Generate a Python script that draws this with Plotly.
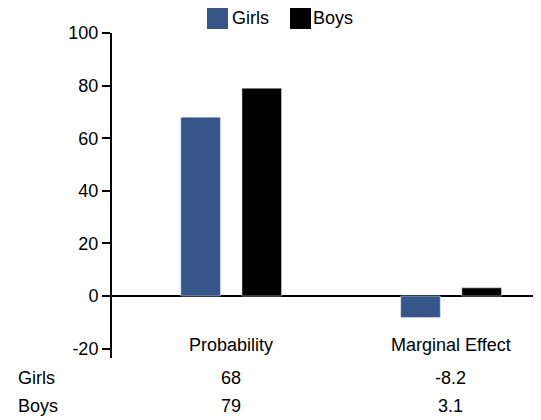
import plotly.graph_objects as go

categories = ["Probability", "Marginal Effect"]
girls = [68, -8.2]
boys = [79, 3.1]
girls_text = ["68", "-8.2"]
boys_text = ["79", "3.1"]
y_ticks = [-20, 0, 20, 40, 60, 80, 100]
y_tick_text = ["-20", "0", "20", "40", "60", "80", "100"]

GIRL_COLOR = "#36568a"
BOY_COLOR = "#000000"
FONT = "Liberation Sans, Arial, sans-serif"
FS = 18

OFF = 8  # page body margin
W, H = 541 - OFF, 420 - OFF
L, T = 112 - OFF, 33 - OFF
R = 0
B = H - (358 - OFF)
pw, ph = W - L - R, H - T - B

def px_x(x):
    return (x - OFF - L) / pw

def px_y(y):
    return 1 - (y - OFF - T) / ph

fig = go.Figure()
fig.add_trace(go.Bar(x=categories, y=girls, name="Girls", marker_color=GIRL_COLOR,
                     width=0.18, offset=-0.228, showlegend=False))
fig.add_trace(go.Bar(x=categories, y=boys, name="Boys", marker_color=BOY_COLOR,
                     width=0.18, offset=0.05, showlegend=False))

fig.update_layout(
    width=W, height=H,
    margin=dict(l=L, r=R, t=T, b=B, pad=0),
    paper_bgcolor="white", plot_bgcolor="white",
    font=dict(family=FONT, size=FS, color="black"),
    barmode="overlay",
    xaxis=dict(type="category", range=[-0.541, 1.41], showticklabels=False,
               showline=False, showgrid=False, zeroline=False, fixedrange=True),
    yaxis=dict(range=[-23.57, 100], tickvals=y_ticks, ticktext=y_tick_text,
               showgrid=False,
               showline=True, linecolor="black", linewidth=2,
               ticks="outside", ticklen=8, tickwidth=2, tickcolor="black",
               zeroline=True, zerolinecolor="black", zerolinewidth=2),
)

# small end tick on zero line
fig.add_shape(type="line", xref="paper", yref="y", x0=px_x(539.5), x1=px_x(539.5), y0=0, y1=-2.6,
              line=dict(color="black", width=1.5))

# legend built from shapes + text
for name, color, x0, tx in [("Girls", GIRL_COLOR, 207, 230), ("Boys", BOY_COLOR, 290, 311)]:
    fig.add_shape(type="rect", xref="paper", yref="paper",
                  x0=px_x(x0), x1=px_x(x0 + 21), y0=px_y(29), y1=px_y(7),
                  fillcolor=color, line=dict(width=0))
    fig.add_annotation(text=name, xref="paper", yref="paper", x=px_x(tx), y=px_y(18),
                       xanchor="left", yanchor="middle", showarrow=False)

# category labels and table
for i, cat in enumerate(categories):
    fig.add_annotation(text=cat, xref="x", yref="paper", x=i, y=px_y(345),
                       xanchor="center", yanchor="middle", showarrow=False)
    fig.add_annotation(text=girls_text[i], xref="x", yref="paper", x=i, y=px_y(378),
                       xanchor="center", yanchor="middle", showarrow=False)
    fig.add_annotation(text=boys_text[i], xref="x", yref="paper", x=i, y=px_y(406),
                       xanchor="center", yanchor="middle", showarrow=False)

fig.add_annotation(text="Girls", xref="paper", yref="paper", x=px_x(16), y=px_y(378),
                   xanchor="left", yanchor="middle", showarrow=False)
fig.add_annotation(text="Boys", xref="paper", yref="paper", x=px_x(16), y=px_y(406),
                   xanchor="left", yanchor="middle", showarrow=False)

fig.write_html("out.html")
